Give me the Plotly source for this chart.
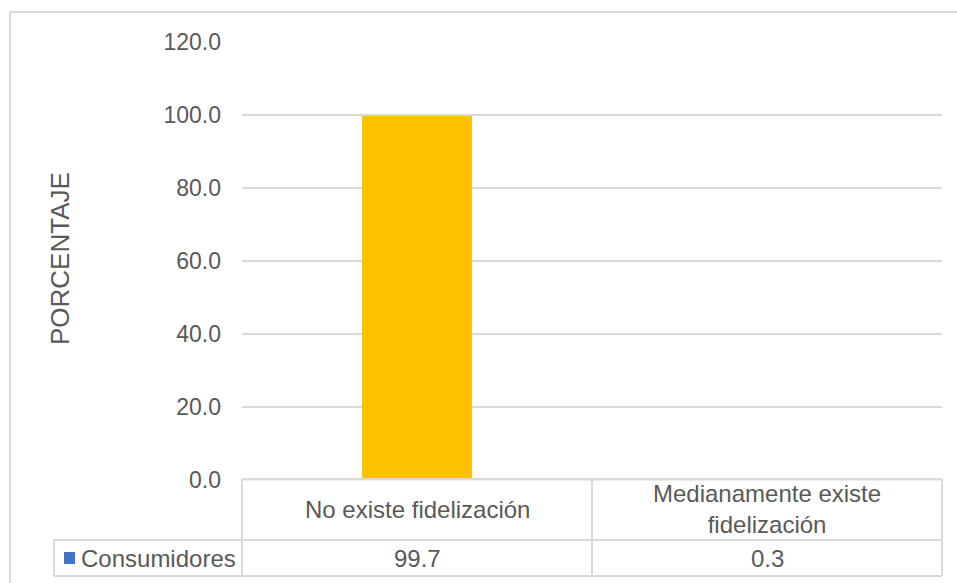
import plotly.graph_objects as go

# Datos
categorias = ["No existe fidelización", "Medianamente existe fidelización"]
etiquetas_tabla = ["No existe fidelización", "Medianamente existe<br>fidelización"]
serie = "Consumidores"
valores = [99.7, 0.3]
ticks_y = [0, 20, 40, 60, 80, 100, 120]
etiquetas_y = ["0.0", "20.0", "40.0", "60.0", "80.0", "100.0", "120.0"]

W, H = 957, 583
PL, PR, PT, PB = 242, 942, 42, 480   # plot area in pixels
FONT = "Liberation Sans, Arial, sans-serif"
GRIS_TXT = "#595959"
GRIS_LIN = "#d9d9d9"
AZUL = "#4472C4"
FS = 24


def px(x):
    return (x - PL) / (PR - PL)


def py(y):
    return (PB - y) / (PB - PT)


fig = go.Figure()
fig.add_trace(go.Bar(
    x=categorias, y=valores, name=serie,
    marker=dict(color="#FFC000", line=dict(width=0)),
    width=0.314, showlegend=False,
))

shapes = []


def linea(x0, y0, x1, y1, w=2):
    shapes.append(dict(type="line", xref="paper", yref="paper",
                       x0=px(x0), y0=py(y0), x1=px(x1), y1=py(y1),
                       line=dict(color=GRIS_LIN, width=w), layer="above"))


# Chart frame
linea(10, 12, 960, 12)
linea(10, 12, 10, 590)

# Data table grid
linea(PL, 479.2, PR, 479.2, 2.4)
linea(54, 540, PR, 540)
linea(54, 576, PR, 576)
linea(54, 540, 54, 576)
n = len(categorias)
for i in range(n + 1):
    xx = PL + i * (PR - PL) / n
    linea(xx, 479, xx, 576)

# Series key marker in the table
shapes.append(dict(type="rect", xref="paper", yref="paper",
                   x0=px(64), x1=px(75), y0=py(552), y1=py(564),
                   fillcolor=AZUL, line=dict(width=0), layer="above"))

annotations = []
for i, (lab, v) in enumerate(zip(etiquetas_tabla, valores)):
    cx = (i + 0.5) / n
    annotations.append(dict(x=cx, y=py(509), xref="paper", yref="paper",
                            text=lab, showarrow=False,
                            font=dict(family=FONT, size=FS, color=GRIS_TXT),
                            xanchor="center", yanchor="middle"))
    annotations.append(dict(x=cx, y=py(558), xref="paper", yref="paper",
                            text=f"{v:.1f}", showarrow=False,
                            font=dict(family=FONT, size=FS, color=GRIS_TXT),
                            xanchor="center", yanchor="middle"))

# Series name in the table
annotations.append(dict(x=px(79), y=py(558), xref="paper", yref="paper",
                        text=serie, showarrow=False,
                        font=dict(family=FONT, size=FS, color=GRIS_TXT),
                        xanchor="left", yanchor="middle"))

# Axis title
annotations.append(dict(x=px(60), y=py(259), xref="paper", yref="paper",
                        text="PORCENTAJE", textangle=-90, showarrow=False,
                        font=dict(family=FONT, size=26, color=GRIS_TXT),
                        xanchor="center", yanchor="middle"))

fig.update_layout(
    width=W, height=H,
    margin=dict(l=PL, r=W - PR, t=PT, b=H - PB, pad=0),
    paper_bgcolor="white", plot_bgcolor="white",
    bargap=0.686,
    shapes=shapes, annotations=annotations,
    xaxis=dict(showticklabels=False, showgrid=False, zeroline=False,
               showline=False, ticks=""),
    yaxis=dict(range=[0, 120], tickvals=ticks_y, ticktext=etiquetas_y,
               showgrid=True, gridcolor=GRIS_LIN, gridwidth=2,
               zeroline=False, showline=False, ticks="",
               ticklabelstandoff=20,
               tickfont=dict(family=FONT, size=23, color=GRIS_TXT)),
)

fig.write_html("out.html")
